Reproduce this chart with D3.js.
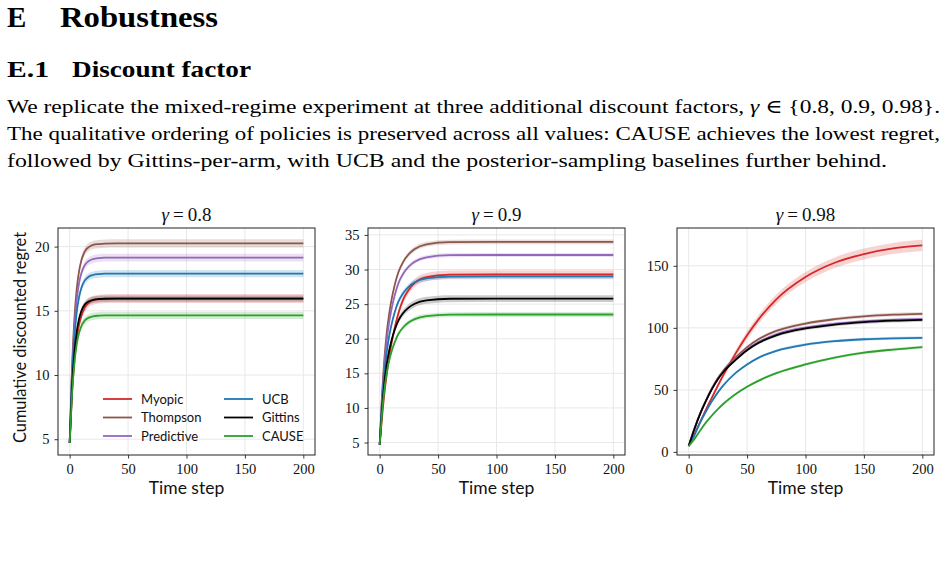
<!DOCTYPE html>
<html><head><meta charset="utf-8">
<script src="https://cdn.jsdelivr.net/npm/d3@7"></script>
<style>
body{margin:0;background:#fff;}
svg{display:block;}
</style></head>
<body>
<svg id="page" width="946" height="565"></svg>
<script>
// ---------------- DATA ----------------
const policies = ["Myopic", "Thompson", "Predictive", "UCB", "Gittins", "CAUSE"];
const gammaLabels = ["0.8", "0.9", "0.98"];
const xTicks = [0, 50, 100, 150, 200];
const yTicks08 = [5, 10, 15, 20];
const yTicks09 = [5, 10, 15, 20, 25, 30, 35];
const yTicks098 = [0, 50, 100, 150];

// time steps at which values were read (gamma 0.8 and 0.9 panels)
const tFast = [0, 2, 4, 6, 8, 10, 13, 16, 20, 25, 30, 40, 60, 100, 150, 200];
// time steps at which values were read (gamma 0.98 panel)
const tSlow = [0, 5, 10, 15, 20, 25, 30, 40, 50, 60, 75, 100, 125, 150, 175, 200];

// gamma = 0.8 : mean cumulative discounted regret
const myopic08     = [4.7, 8.6, 11.1, 12.8, 13.9, 14.6, 15.25, 15.6, 15.82, 15.91, 15.94, 15.96, 15.96, 15.96, 15.96, 15.96];
const thompson08   = [4.7, 10.61, 14.34, 16.67, 18.07, 18.93, 19.63, 19.94, 20.13, 20.2, 20.24, 20.25, 20.25, 20.25, 20.25, 20.25];
const predictive08 = [4.7, 10.19, 13.66, 15.83, 17.13, 17.92, 18.57, 18.86, 19.03, 19.11, 19.14, 19.15, 19.15, 19.15, 19.15, 19.15];
const ucb08        = [4.7, 9.72, 12.88, 14.86, 16.05, 16.78, 17.37, 17.64, 17.79, 17.86, 17.89, 17.9, 17.9, 17.9, 17.9, 17.9];
const gittins08    = [4.7, 8.97, 11.67, 13.36, 14.37, 14.99, 15.5, 15.72, 15.86, 15.92, 15.94, 15.95, 15.95, 15.95, 15.95, 15.95];
const cause08      = [4.7, 8.48, 10.87, 12.36, 13.26, 13.8, 14.25, 14.45, 14.57, 14.62, 14.64, 14.65, 14.65, 14.65, 14.65, 14.65];
// gamma = 0.8 : band half-widths
const myopic08Sd     = [0, 0.12, 0.2, 0.26, 0.3, 0.32, 0.34, 0.35, 0.35, 0.35, 0.35, 0.35, 0.35, 0.35, 0.35, 0.35];
const thompson08Sd   = [0, 0.12, 0.2, 0.25, 0.28, 0.3, 0.32, 0.32, 0.32, 0.32, 0.32, 0.32, 0.32, 0.32, 0.32, 0.32];
const predictive08Sd = [0, 0.12, 0.2, 0.24, 0.27, 0.29, 0.3, 0.3, 0.3, 0.3, 0.3, 0.3, 0.3, 0.3, 0.3, 0.3];
const ucb08Sd        = [0, 0.1, 0.18, 0.22, 0.25, 0.27, 0.28, 0.28, 0.28, 0.28, 0.28, 0.28, 0.28, 0.28, 0.28, 0.28];
const gittins08Sd    = [0, 0.1, 0.16, 0.2, 0.22, 0.24, 0.25, 0.25, 0.25, 0.25, 0.25, 0.25, 0.25, 0.25, 0.25, 0.25];
const cause08Sd      = [0, 0.1, 0.18, 0.22, 0.25, 0.27, 0.28, 0.28, 0.28, 0.28, 0.28, 0.28, 0.28, 0.28, 0.28, 0.28];

// gamma = 0.9
const myopic09     = [4.7, 8.64, 12.08, 14.79, 17.25, 19.21, 21.67, 23.64, 25.61, 27.09, 28.07, 28.91, 29.25, 29.3, 29.3, 29.3];
const thompson09   = [4.7, 11.73, 17.01, 20.81, 23.45, 25.5, 27.85, 29.6, 31.07, 32.24, 32.97, 33.65, 33.97, 34.0, 34.0, 34.0];
const predictive09 = [4.7, 11.28, 16.21, 19.77, 22.24, 24.15, 26.35, 27.99, 29.36, 30.46, 31.14, 31.77, 32.07, 32.1, 32.1, 32.1];
const ucb09        = [4.7, 10.53, 14.91, 18.06, 20.25, 21.95, 23.9, 25.35, 26.57, 27.54, 28.15, 28.71, 28.98, 29.0, 29.0, 29.0];
const gittins09    = [4.7, 9.76, 13.56, 16.3, 18.2, 19.68, 21.37, 22.63, 23.69, 24.53, 25.06, 25.55, 25.78, 25.8, 25.8, 25.8];
const cause09      = [4.7, 9.21, 12.6, 15.04, 16.73, 18.05, 19.55, 20.68, 21.62, 22.37, 22.84, 23.27, 23.48, 23.5, 23.5, 23.5];
const myopic09Sd     = [0, 0.15, 0.25, 0.33, 0.4, 0.45, 0.5, 0.54, 0.57, 0.6, 0.6, 0.6, 0.6, 0.6, 0.6, 0.6];
const thompson09Sd   = [0, 0.1, 0.16, 0.2, 0.24, 0.27, 0.3, 0.32, 0.34, 0.35, 0.35, 0.35, 0.35, 0.35, 0.35, 0.35];
const predictive09Sd = [0, 0.08, 0.14, 0.18, 0.21, 0.24, 0.26, 0.28, 0.29, 0.3, 0.3, 0.3, 0.3, 0.3, 0.3, 0.3];
const ucb09Sd        = [0, 0.1, 0.17, 0.22, 0.27, 0.3, 0.34, 0.36, 0.38, 0.4, 0.4, 0.4, 0.4, 0.4, 0.4, 0.4];
const gittins09Sd    = [0, 0.12, 0.2, 0.27, 0.33, 0.37, 0.42, 0.45, 0.48, 0.5, 0.5, 0.5, 0.5, 0.5, 0.5, 0.5];
const cause09Sd      = [0, 0.09, 0.15, 0.2, 0.24, 0.27, 0.3, 0.32, 0.34, 0.35, 0.35, 0.35, 0.35, 0.35, 0.35, 0.35];

// gamma = 0.98
const myopic098     = [4.7, 14.5, 24.5, 34.5, 44, 53.5, 62.5, 79, 94, 107, 123, 141, 152.5, 159.5, 164, 166.5];
const thompson098   = [4.7, 19, 31.5, 42, 51.5, 59.5, 66, 76, 84.5, 91, 97.5, 103.5, 107, 109.3, 110.6, 111.3];
const predictive098 = [4.7, 18.8, 31.2, 41.8, 51.2, 59, 65.3, 74.6, 82.6, 88.7, 94.8, 100.2, 103.3, 105.3, 106.5, 107.1];
const ucb098        = [4.7, 13.5, 24, 33, 41, 48, 54, 63.5, 70.5, 76, 81.5, 86.5, 89.3, 90.8, 91.6, 92];
const gittins098    = [4.7, 18.7, 31, 41.5, 50.8, 58.6, 64.8, 74, 82, 88, 94, 99.5, 102.6, 104.6, 105.8, 106.5];
const cause098      = [4.7, 10.5, 17.5, 24, 29.5, 34.5, 39, 46.5, 52.5, 57.5, 63.5, 70.5, 76, 80, 82.5, 84.5];
const myopic098Sd     = [0, 0.5, 0.9, 1.3, 1.7, 2.0, 2.3, 2.8, 3.2, 3.5, 3.8, 4.1, 4.3, 4.4, 4.5, 4.5];
const thompson098Sd   = [0, 0.3, 0.5, 0.6, 0.7, 0.8, 0.9, 1.0, 1.1, 1.2, 1.3, 1.4, 1.4, 1.5, 1.5, 1.5];
const predictive098Sd = [0, 0.3, 0.5, 0.6, 0.7, 0.8, 0.9, 1.0, 1.1, 1.2, 1.3, 1.4, 1.4, 1.5, 1.5, 1.5];
const ucb098Sd        = [0, 0.2, 0.4, 0.5, 0.6, 0.7, 0.8, 0.9, 1.0, 1.0, 1.1, 1.2, 1.2, 1.2, 1.2, 1.2];
const gittins098Sd    = [0, 0.3, 0.5, 0.6, 0.7, 0.8, 0.9, 1.0, 1.1, 1.2, 1.3, 1.4, 1.4, 1.5, 1.5, 1.5];
const cause098Sd      = [0, 0.2, 0.4, 0.5, 0.6, 0.7, 0.8, 0.9, 1.0, 1.0, 1.1, 1.2, 1.2, 1.2, 1.2, 1.2];

// ---------------- STYLE ----------------
const colors = ["#d62728", "#8c564b", "#9467bd", "#1f77b4", "#000000", "#2ca02c"];
const SERIF = "'Liberation Serif', 'DejaVu Serif', serif";
const SANS = "Lato, 'DejaVu Sans', sans-serif";

const panels = [
  {gamma: gammaLabels[0], t: tFast, yTicks: yTicks08, yDom: [3.77, 21.45], left: 58,
   means: [myopic08, thompson08, predictive08, ucb08, gittins08, cause08],
   sds: [myopic08Sd, thompson08Sd, predictive08Sd, ucb08Sd, gittins08Sd, cause08Sd]},
  {gamma: gammaLabels[1], t: tFast, yTicks: yTicks09, yDom: [3.2, 36.0], left: 368,
   means: [myopic09, thompson09, predictive09, ucb09, gittins09, cause09],
   sds: [myopic09Sd, thompson09Sd, predictive09Sd, ucb09Sd, gittins09Sd, cause09Sd]},
  {gamma: gammaLabels[2], t: tSlow, yTicks: yTicks098, yDom: [-2.5, 180.5], left: 677,
   means: [myopic098, thompson098, predictive098, ucb098, gittins098, cause098],
   sds: [myopic098Sd, thompson098Sd, predictive098Sd, ucb098Sd, gittins098Sd, cause098Sd]}
];

const svg = d3.select("#page");

// ---------------- PAGE TEXT ----------------
function addText(x, y, parts, size, weight, len) {
  const t = svg.append("text").attr("x", x).attr("y", y)
    .attr("font-family", SERIF).attr("font-size", size).attr("font-weight", weight || "normal")
    .attr("fill", "#000");
  parts.forEach(p => {
    const s = t.append("tspan").text(p.s);
    if (p.i) s.attr("font-style", "italic");
  });
  if (len) t.attr("textLength", len).attr("lengthAdjust", "spacingAndGlyphs");
  return t;
}
addText(7, 27, [{s: "E"}], 29, "bold");
addText(60, 27, [{s: "Robustness"}], 29, "bold", 158);
addText(7, 77, [{s: "E.1"}], 23, "bold", 42);
addText(72, 77, [{s: "Discount factor"}], 23, "bold", 179);
addText(7, 113, [{s: "We replicate the mixed-regime experiment at three additional discount factors, "}, {s: "γ", i: true}, {s: " ∈ {0.8, 0.9, 0.98}."}], 19.5, "normal", 933);
addText(7, 140, [{s: "The qualitative ordering of policies is preserved across all values: CAUSE achieves the lowest regret,"}], 19.5, "normal", 933);
addText(7, 167, [{s: "followed by Gittins-per-arm, with UCB and the posterior-sampling baselines further behind."}], 19.5, "normal", 880);

// ---------------- PANELS ----------------
const axTop = 228, axBottom = 455, axWidth = 257;

panels.forEach((p, pi) => {
  const x = d3.scaleLinear().domain([-10, 210]).range([p.left, p.left + axWidth]);
  const y = d3.scaleLinear().domain(p.yDom).range([axBottom, axTop]);
  const g = svg.append("g");

  // grid
  g.append("g").selectAll("line").data(xTicks).join("line")
    .attr("x1", d => x(d)).attr("x2", d => x(d)).attr("y1", axTop).attr("y2", axBottom)
    .attr("stroke", "#e8e8e8").attr("stroke-width", 1);
  g.append("g").selectAll("line").data(p.yTicks).join("line")
    .attr("x1", p.left).attr("x2", p.left + axWidth).attr("y1", d => y(d)).attr("y2", d => y(d))
    .attr("stroke", "#e8e8e8").attr("stroke-width", 1);

  const clipId = "clip" + pi;
  svg.append("clipPath").attr("id", clipId).append("rect")
    .attr("x", p.left).attr("y", axTop).attr("width", axWidth).attr("height", axBottom - axTop);
  const plot = g.append("g").attr("clip-path", `url(#${clipId})`);

  const area = d3.area().x(d => x(d.t)).y0(d => y(d.m - d.s)).y1(d => y(d.m + d.s)).curve(d3.curveMonotoneX);
  const line = d3.line().x(d => x(d.t)).y(d => y(d.m)).curve(d3.curveMonotoneX);

  const series = p.means.map((m, k) => p.t.map((t, i) => ({t: t, m: m[i], s: p.sds[k][i]})));
  series.forEach((s, k) => {
    plot.append("path").attr("d", area(s)).attr("fill", colors[k]).attr("fill-opacity", 0.2).attr("stroke", "none");
  });
  series.forEach((s, k) => {
    plot.append("path").attr("d", line(s)).attr("fill", "none").attr("stroke", colors[k]).attr("stroke-width", 1.8);
  });

  // axes
  const xAxis = d3.axisBottom(x).tickValues(xTicks).tickSize(3.5).tickPadding(5.5);
  const yAxis = d3.axisLeft(y).tickValues(p.yTicks).tickSize(3.5).tickPadding(5);
  const gx = g.append("g").attr("transform", `translate(0,${axBottom})`).call(xAxis);
  const gy = g.append("g").attr("transform", `translate(${p.left},0)`).call(yAxis);
  [gx, gy].forEach(a => {
    a.select(".domain").remove();
    a.selectAll("line").attr("stroke", "#222").attr("stroke-width", 0.9);
    a.selectAll("text").attr("font-family", SERIF).attr("font-size", 14.5).attr("fill", "#111");
  });

  // frame
  g.append("rect").attr("x", p.left).attr("y", axTop).attr("width", axWidth).attr("height", axBottom - axTop)
    .attr("fill", "none").attr("stroke", "#222").attr("stroke-width", 1);

  // title
  const tt = g.append("text").attr("x", p.left + axWidth / 2).attr("y", 221)
    .attr("text-anchor", "middle").attr("font-family", SERIF).attr("font-size", 19).attr("fill", "#111");
  tt.append("tspan").attr("font-style", "italic").text("γ");
  tt.append("tspan").attr("dx", 4).text("=");
  tt.append("tspan").attr("dx", 4).text(p.gamma);

  // x label
  g.append("text").attr("x", p.left + axWidth / 2).attr("y", 494).attr("text-anchor", "middle")
    .attr("font-family", SANS).attr("font-size", 17.5).attr("fill", "#111").text("Time step");
});

// y label (first panel only)
svg.append("text").attr("transform", "translate(26,337.5) rotate(-90)").attr("text-anchor", "middle")
  .attr("font-family", SANS).attr("font-size", 17.5).attr("fill", "#111")
  .attr("textLength", 211).attr("lengthAdjust", "spacingAndGlyphs")
  .text("Cumulative discounted regret");

// legend (first panel)
const legCols = [103, 224];
const legRows = [399, 417.5, 436];
policies.forEach((name, k) => {
  const cx = legCols[Math.floor(k / 3)], cy = legRows[k % 3];
  svg.append("line").attr("x1", cx).attr("x2", cx + 29).attr("y1", cy).attr("y2", cy)
    .attr("stroke", colors[k]).attr("stroke-width", 1.8);
  svg.append("text").attr("x", cx + 38).attr("y", cy + 4.5).attr("font-family", SANS)
    .attr("font-size", 13).attr("fill", "#111").text(name);
});
</script>
</body></html>
